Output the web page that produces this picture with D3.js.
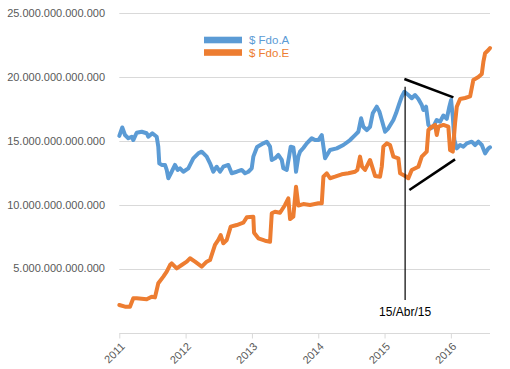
<!DOCTYPE html>
<html>
<head>
<meta charset="utf-8">
<script src="https://cdn.jsdelivr.net/npm/d3@7"></script>
<style>
  html, body { margin: 0; padding: 0; background: #ffffff; }
  svg { display: block; }
</style>
</head>
<body>
<svg id="chart" width="510" height="369"></svg>
<script>
// ---- Data (time in decimal years, values in trillions) ----
const seriesNames = ["$ Fdo.A", "$ Fdo.E"];
const seriesColors = ["#5b9bd5", "#ed7d31"];

const timeA = [2011.000,2011.045,2011.086,2011.136,2011.187,2011.211,2011.262,2011.338,2011.413,2011.437,
  2011.498,2011.564,2011.588,2011.603,2011.640,2011.689,2011.715,2011.739,2011.790,2011.840,
  2011.881,2011.916,2011.965,2012.041,2012.116,2012.192,2012.243,2012.318,2012.368,2012.418,
  2012.469,2012.519,2012.569,2012.644,2012.695,2012.771,2012.846,2012.896,2012.946,2012.997,
  2013.021,2013.077,2013.172,2013.223,2013.273,2013.299,2013.348,2013.398,2013.450,2013.474,
  2013.525,2013.560,2013.585,2013.624,2013.650,2013.665,2013.700,2013.726,2013.775,2013.827,
  2013.902,2013.952,2014.002,2014.053,2014.103,2014.178,2014.279,2014.379,2014.480,2014.555,
  2014.605,2014.646,2014.680,2014.732,2014.781,2014.822,2014.882,2014.922,2014.958,2015.008,
  2015.057,2015.133,2015.173,2015.223,2015.259,2015.299,2015.359,2015.410,2015.460,2015.510,
  2015.561,2015.585,2015.626,2015.661,2015.697,2015.736,2015.787,2015.837,2015.887,2015.938,
  2015.977,2016.003,2016.029,2016.053,2016.089,2016.139,2016.189,2016.240,2016.315,2016.365,
  2016.415,2016.466,2016.516,2016.566,2016.591];
const valuesA = [15.38,16.04,15.45,15.20,15.32,15.06,15.63,15.71,15.59,15.32,
  15.59,15.32,14.54,13.24,13.11,13.11,12.72,12.07,12.58,13.11,
  12.72,12.85,12.58,12.85,13.63,14.02,14.15,13.76,13.24,12.58,
  12.97,12.58,12.97,13.11,12.46,12.58,12.72,12.46,12.58,12.85,
  13.76,14.52,14.80,14.93,14.54,13.50,13.63,13.89,13.50,12.85,
  12.72,13.76,14.54,14.49,13.50,12.58,13.76,14.15,14.44,14.80,
  15.20,15.06,15.06,15.45,13.63,14.28,14.41,14.67,15.06,15.45,
  15.71,16.76,16.10,15.84,16.10,17.15,17.67,17.28,16.63,15.71,
  15.98,16.63,17.15,17.93,18.45,18.84,18.58,18.33,18.58,18.27,
  17.80,17.41,17.67,16.24,15.98,16.10,16.63,16.49,16.98,16.71,
  17.67,18.19,16.89,15.06,14.41,14.67,14.54,14.80,14.93,14.67,
  14.93,14.67,14.02,14.41,14.49];

const timeE = [2011.000,2011.086,2011.161,2011.211,2011.262,2011.413,2011.489,2011.538,2011.588,2011.664,
  2011.715,2011.765,2011.790,2011.866,2011.941,2012.017,2012.066,2012.142,2012.243,2012.318,
  2012.368,2012.443,2012.493,2012.529,2012.569,2012.620,2012.680,2012.771,2012.870,2012.922,
  2013.021,2013.032,2013.097,2013.198,2013.273,2013.299,2013.348,2013.424,2013.499,2013.549,
  2013.575,2013.624,2013.665,2013.700,2013.775,2013.876,2014.002,2014.053,2014.078,2014.128,
  2014.178,2014.253,2014.354,2014.454,2014.555,2014.590,2014.630,2014.661,2014.706,2014.781,
  2014.857,2014.932,2014.958,2014.982,2015.033,2015.083,2015.133,2015.208,2015.234,2015.309,
  2015.359,2015.410,2015.510,2015.561,2015.636,2015.661,2015.712,2015.762,2015.787,2015.812,
  2015.887,2015.962,2015.988,2016.029,2016.063,2016.089,2016.139,2016.214,2016.290,2016.339,
  2016.415,2016.466,2016.490,2016.516,2016.566,2016.591];
const valuesE = [2.15,2.02,2.02,2.68,2.68,2.60,2.80,2.75,3.85,4.37,
  4.76,5.28,5.41,5.02,5.28,5.54,5.81,5.54,5.15,5.54,
  5.67,6.85,7.24,7.63,6.98,7.24,8.28,8.41,8.59,9.01,
  9.06,7.81,7.37,7.18,7.10,9.33,9.45,9.37,9.98,10.50,
  8.88,9.06,11.41,9.94,10.05,9.98,10.11,10.11,12.19,12.46,
  12.07,12.19,12.38,12.46,12.58,12.72,13.76,12.97,12.72,13.50,
  12.25,12.19,12.97,14.54,14.80,14.67,13.76,13.63,12.46,12.25,
  12.07,12.72,12.97,13.76,14.15,15.85,16.10,16.24,15.45,16.10,
  16.24,16.10,14.28,14.15,16.37,17.67,18.27,18.35,18.47,19.76,
  19.99,20.23,21.17,21.85,22.10,22.26];

const yTickValues = [5, 10, 15, 20, 25];
const yTickLabels = ["5.000.000.000.000","10.000.000.000.000","15.000.000.000.000","20.000.000.000.000","25.000.000.000.000"];
const xTickValues = [2011, 2012, 2013, 2014, 2015, 2016];
const xTickLabels = ["2011", "2012", "2013", "2014", "2015", "2016"];

// annotation (decimal year, trillions)
const markerTime = 2015.31;
const markerLabel = "15/Abr/15";
const markerRange = [2.54, 19.23];
const upperLine = [[2015.299, 19.84], [2016.038, 18.40]];
const lowerLine = [[2015.374, 11.15], [2016.063, 13.55]];

// ---- Chart ----
const svg = d3.select("#chart");
const x = d3.scaleLinear().domain([2011, 2016.59]).range([119.3, 490]);
const y = d3.scaleLinear().domain([0, 25]).range([332.5, 13]);
const font = "'Liberation Sans', Arial, sans-serif";
const gridColor = "#d9d9d9";
const textColor = "#595959";

// gridlines
svg.append("g").selectAll("line").data([0].concat(yTickValues)).join("line")
  .attr("x1", x.range()[0]).attr("x2", x.range()[1])
  .attr("y1", d => Math.round(y(d)) + 0.5).attr("y2", d => Math.round(y(d)) + 0.5)
  .attr("stroke", gridColor).attr("stroke-width", 1);

// y labels
svg.append("g").selectAll("text").data(yTickValues).join("text")
  .attr("x", 105).attr("y", d => y(d)).attr("dy", "0.35em")
  .attr("text-anchor", "end")
  .attr("font-family", font).attr("font-size", 11).attr("fill", textColor)
  .text((d, i) => yTickLabels[i]);

// x axis ticks
const xAxis = d3.axisBottom(x).tickValues(xTickValues).tickSize(5).tickSizeOuter(0)
  .tickFormat((d, i) => xTickLabels[i]);
const gx = svg.append("g").attr("transform", `translate(0,${Math.round(y(0)) + 0.5})`).call(xAxis);
gx.select(".domain").remove();
gx.selectAll(".tick line").attr("stroke", gridColor);
gx.selectAll(".tick text")
  .attr("font-family", font).attr("font-size", 11).attr("fill", textColor)
  .attr("text-anchor", "end")
  .attr("transform", "translate(3,11) rotate(-45)")
  .attr("y", 0).attr("dy", "0.35em").attr("x", 0);

// series
const line = d3.line().x(d => x(d[0])).y(d => y(d[1])).curve(d3.curveLinear);
const dataA = timeA.map((t, i) => [t, valuesA[i]]);
const dataE = timeE.map((t, i) => [t, valuesE[i]]);
[dataA, dataE].forEach((d, i) => {
  svg.append("path").datum(d)
    .attr("d", line).attr("fill", "none")
    .attr("stroke", seriesColors[i]).attr("stroke-width", 4)
    .attr("stroke-linejoin", "round").attr("stroke-linecap", "round");
});

// legend
const legend = svg.append("g");
seriesNames.forEach((n, i) => {
  const ly = 40 + i * 12.5;
  legend.append("rect").attr("x", 204).attr("y", ly - 3.3).attr("width", 38).attr("height", 6.6)
    .attr("fill", seriesColors[i]);
  legend.append("text").attr("x", 249).attr("y", ly).attr("dy", "0.35em")
    .attr("font-family", font).attr("font-size", 11.5).attr("fill", seriesColors[i])
    .text(n);
});

// annotations
svg.append("line")
  .attr("x1", x(markerTime)).attr("x2", x(markerTime))
  .attr("y1", y(markerRange[1])).attr("y2", y(markerRange[0]))
  .attr("stroke", "#000").attr("stroke-width", 1.2);
svg.append("text").attr("x", x(markerTime)).attr("y", 312).attr("dy", "0.35em")
  .attr("text-anchor", "middle").attr("font-family", font).attr("font-size", 12)
  .attr("fill", "#000").text(markerLabel);
[upperLine, lowerLine].forEach(seg => {
  svg.append("line")
    .attr("x1", x(seg[0][0])).attr("y1", y(seg[0][1]))
    .attr("x2", x(seg[1][0])).attr("y2", y(seg[1][1]))
    .attr("stroke", "#000").attr("stroke-width", 2.6);
});
</script>
</body>
</html>
